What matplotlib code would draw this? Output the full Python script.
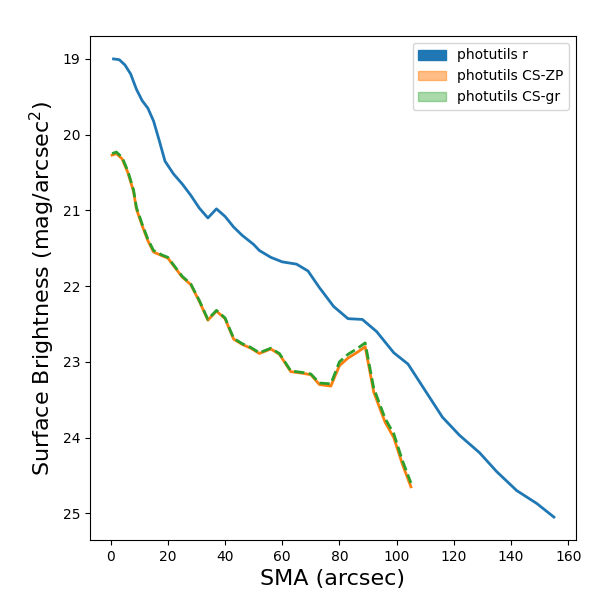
import matplotlib
matplotlib.use("Agg")
import matplotlib.pyplot as plt
import matplotlib.patches as mpatches

# data
sma_r = [1, 3, 5, 7, 9, 11, 13, 15, 17, 19, 22, 25, 28, 31, 34, 37, 40, 43, 46,
         50, 52, 56, 60, 65, 69, 73, 78, 83, 88, 93, 99, 104, 110, 116, 122,
         129, 135, 142, 149, 155]
sb_r = [19.0, 19.01, 19.08, 19.2, 19.4, 19.55, 19.65, 19.82, 20.08, 20.35,
        20.52, 20.65, 20.8, 20.97, 21.1, 20.98, 21.08, 21.22, 21.33, 21.45,
        21.53, 21.62, 21.68, 21.71, 21.8, 22.02, 22.27, 22.43, 22.44, 22.6,
        22.88, 23.03, 23.38, 23.73, 23.97, 24.2, 24.45, 24.7, 24.87, 25.05]

sma_cs = [0.5, 2, 4, 6, 8, 9, 11, 13, 15, 18, 20, 23, 25, 28, 31, 34, 37, 40,
          43, 46, 49, 52, 56, 59, 63, 67, 70, 73, 77, 80, 83, 86, 89, 92, 96,
          99, 102, 105]
sb_zp = [20.27, 20.25, 20.32, 20.5, 20.75, 20.98, 21.2, 21.4, 21.55, 21.6,
         21.63, 21.78, 21.88, 21.98, 22.2, 22.45, 22.33, 22.43, 22.7, 22.77,
         22.82, 22.89, 22.83, 22.9, 23.13, 23.15, 23.17, 23.3, 23.32, 23.05,
         22.95, 22.88, 22.8, 23.4, 23.8, 24.0, 24.35, 24.65]
sb_gr = [20.25, 20.23, 20.3, 20.48, 20.73, 20.96, 21.18, 21.38, 21.53, 21.59,
         21.62, 21.77, 21.87, 21.97, 22.19, 22.44, 22.32, 22.42, 22.69, 22.76,
         22.81, 22.88, 22.82, 22.89, 23.12, 23.14, 23.16, 23.28, 23.29, 23.0,
         22.9, 22.83, 22.75, 23.35, 23.75, 23.95, 24.3, 24.6]

fig, ax = plt.subplots(figsize=(6, 6), dpi=100)
fig.subplots_adjust(left=0.15, right=0.96, top=0.94, bottom=0.1)
ax.plot(sma_r, sb_r, color="C0", lw=2)
ax.plot(sma_cs, sb_zp, color="C1", lw=2)
ax.plot(sma_cs, sb_gr, color="C2", lw=2, ls="--")
ax.invert_yaxis()
ax.set_xlabel("SMA (arcsec)", fontsize=16)
ax.set_ylabel("Surface Brightness (mag/arcsec$^2$)", fontsize=16)
ax.set_xticks(range(0, 161, 20))

handles = [mpatches.Patch(color="C0", label="photutils r"),
           mpatches.Patch(color="C1", alpha=0.5, label="photutils CS-ZP"),
           mpatches.Patch(color="C2", alpha=0.4, label="photutils CS-gr")]
ax.legend(handles=handles, loc="upper right")

plt.savefig("out.png")
